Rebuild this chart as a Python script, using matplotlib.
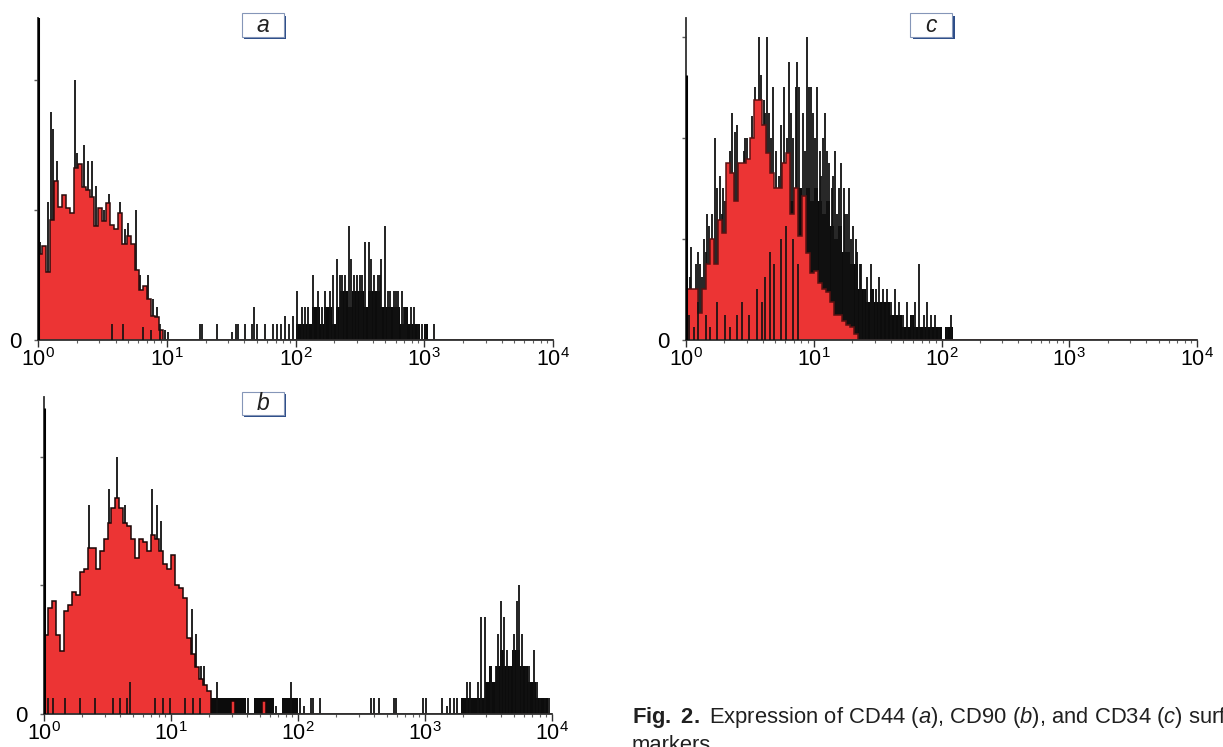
import numpy as np
import matplotlib
matplotlib.use('Agg')
from matplotlib import pyplot as plt
from matplotlib.patches import Rectangle

plt.rcParams['font.family'] = ['Liberation Sans', 'DejaVu Sans']
plt.rcParams['mathtext.fontset'] = 'custom'
plt.rcParams['mathtext.rm'] = 'Liberation Sans'
plt.rcParams['mathtext.it'] = 'Liberation Sans:italic'
plt.rcParams['mathtext.bf'] = 'Liberation Sans:bold'

#------------- data: events per channel, 32 channels per decade -------------#
ChannelsPerDecade = 32
DecadeTicks = [1, 10, 100, 1000, 10000]
DecadeLabels = [r'$\mathregular{10^{%d}}$' % i for i in range(5)]

# control (red, filled)
red_a = [5.3, 5.8, 4.2, 7.4, 9.8, 8.2, 8.9, 8.1, 7.8, 10.6, 10.8, 9.4, 9.2, 8.8, 7.0, 8.1,
         7.3, 8.4, 7.1, 6.8, 7.8, 5.9, 6.4, 5.9, 4.3, 3.1, 3.3, 2.5, 1.5, 1.4, 0.6, 0,
         0, 0, 0, 0, 0, 0, 0, 0, 0, 0, 0, 0, 0, 0, 0, 0,
         0, 0, 0, 0, 0, 0, 0, 0, 0, 0, 0, 0, 0, 0, 0, 0,
         0, 0, 0, 0, 0, 0, 0, 0, 0, 0, 0, 0, 0, 0, 0, 0,
         0, 0, 0, 0, 0, 0, 0, 0, 0, 0, 0, 0, 0, 0, 0, 0,
         0, 0, 0, 0, 0, 0, 0, 0, 0, 0, 0, 0, 0, 0, 0, 0,
         0, 0, 0, 0, 0, 0, 0, 0, 0, 0, 0, 0, 0, 0, 0, 0]
# sample (black): dense body per channel
black_a = [0, 0, 0, 0, 0, 0, 0, 0, 0, 0, 0, 0, 0, 0, 0, 0,
           0, 0, 0, 0, 0, 0, 0, 0, 0, 0, 0, 0, 0, 0, 0, 0,
           0, 0, 0, 0, 0, 0, 0, 0, 0, 0, 0, 0, 0, 0, 0, 0,
           0, 0, 0, 0, 0, 0, 0, 0, 0, 0, 0, 0, 0, 0, 0, 0,
           1, 1, 1, 1, 2, 2, 1, 2, 2, 1, 2, 3, 3, 2, 3, 3,
           3, 2, 3, 3, 3, 2, 2, 2, 2, 2, 1, 2, 1, 1, 1, 0,
           1, 0, 0, 0, 0, 0, 0, 0, 0, 0, 0, 0, 0, 0, 0, 0,
           0, 0, 0, 0, 0, 0, 0, 0, 0, 0, 0, 0, 0, 0, 0, 0]
# sample (black): single-channel spikes, position in channels and height in events
spike_a_pos = [0.5, 2.6, 3.3, 3.8, 4.6, 9.3, 9.7, 11.4, 12.4, 13.5, 14.5, 16.5, 17.6, 20.4, 21.5,
               22.4, 24.3, 25.4, 27.3, 28.5, 29.5, 31.5, 32.2, 40.2, 40.7, 44.5, 48.3, 49.2, 49.8,
               51.5, 53.2, 53.8, 54.4, 56.4, 58.5, 59.4, 60.5, 61.4, 62.5, 63.3, 64.3, 65.5, 67.2,
               68.3, 69.5, 70.6, 71.4, 73.4, 74.3, 75.6, 76.4, 77.2, 78.5, 79.3, 80.6, 81.2, 82.3,
               83.5, 84.4, 85.2, 86.3, 87.5, 88.6, 89.5, 90.4, 91.5, 92.6, 93.5, 94.5, 95.5, 96.3, 98.3,
               66.4, 72.5, 75.0, 77.8, 80.0, 82.8, 84.9, 86.9, 89.0, 90.9]
spike_a_h = [6, 8.5, 14, 13, 11, 16, 11.5, 12, 11, 11, 9.5, 8, 9, 8.5, 6.8,
             7.2, 8, 4, 4, 2.5, 2, 0.6, 0.5, 1, 1, 1, 0.5, 1, 1,
             1, 1, 2, 1, 1, 1, 1, 1, 1.5, 1, 1.5, 3, 2, 2,
             4, 3, 2, 3, 4, 5, 4, 4, 7, 4, 4, 4, 6, 6,
             4, 4, 5, 7, 3, 3, 3, 3, 2, 2, 2, 1, 1, 1, 1,
             2, 3, 4, 5, 4, 5, 4, 3, 3, 2]
# sample (black): low lines that show inside the red fill
low_a_pos = [18.5, 21.2, 26.2, 28.2, 30.2]
low_a_h = [1, 1, 0.8, 0.6, 1]
first_a = 20

red_b = [4.9, 6.6, 7.0, 4.9, 3.9, 6.4, 6.8, 7.6, 7.4, 8.8, 9.0, 10.3, 10.3, 9.0, 10.1, 10.9,
         11.9, 12.8, 13.4, 12.8, 11.9, 11.7, 10.9, 9.7, 10.9, 10.7, 10.1, 11.1, 10.9, 10.1, 9.3, 9.0,
         9.9, 8.0, 7.8, 7.2, 4.7, 3.7, 2.9, 2.2, 1.8, 1.4, 0, 0, 0, 0, 0, 0.8,
         0, 0, 0, 0, 0, 0, 0, 0.8, 0, 0, 0, 0, 0, 0, 0, 0,
         0, 0, 0, 0, 0, 0, 0, 0, 0, 0, 0, 0, 0, 0, 0, 0,
         0, 0, 0, 0, 0, 0, 0, 0, 0, 0, 0, 0, 0, 0, 0, 0,
         0, 0, 0, 0, 0, 0, 0, 0, 0, 0, 0, 0, 0, 0, 0, 0,
         0, 0, 0, 0, 0, 0, 0, 0, 0, 0, 0, 0, 0, 0, 0, 0]
black_b = [0, 0, 0, 0, 0, 0, 0, 0, 0, 0, 0, 0, 0, 0, 0, 0,
           0, 0, 0, 0, 0, 0, 0, 0, 0, 0, 0, 0, 0, 0, 0, 0,
           0, 0, 0, 0, 0, 0, 0, 0, 0, 0, 1, 1, 1, 1, 1, 1,
           1, 1, 1, 0, 0, 1, 1, 1, 1, 1, 0, 0, 1, 1, 1, 1,
           0, 0, 0, 0, 0, 0, 0, 0, 0, 0, 0, 0, 0, 0, 0, 0,
           0, 0, 0, 0, 0, 0, 0, 0, 0, 0, 0, 0, 0, 0, 0, 0,
           0, 0, 0, 0, 0, 0, 0, 0, 0, 1, 1, 1, 1, 1, 1, 2,
           3, 2, 3, 4, 3, 3, 4, 4, 3, 3, 2, 2, 1, 1, 1, 0]
spike_b_pos = [11.3, 16.4, 18.5, 20.4, 27.3, 28.4, 29.5, 37.3, 38.4, 39.5, 40.4, 43.5, 51.5, 58.5,
               62.3, 64.5, 65.5, 67.2, 67.8, 69.5, 82.3, 83.2, 84.3, 88.2, 88.7, 95.4, 96.2, 100.3,
               101.5, 102.3, 103.2, 104.1, 106.5, 107.3, 109.4, 110.2, 111.1, 112.6, 113.8, 114.5,
               115.2, 115.8, 116.6, 117.5, 118.3, 119.1, 119.7, 120.5, 121.4, 122.2, 123.4, 124.2,
               125.1, 126.3, 127.2]
spike_b_h = [13, 14, 16, 13, 14, 13, 12, 6.5, 5, 3, 3, 2, 1, 0.5,
             2, 1, 0.5, 1, 1, 1, 1, 1, 1, 1, 1, 1, 1, 1,
             0.5, 1, 1, 1, 2, 2, 2, 6, 6, 3, 3, 5,
             7, 6, 4, 3, 5, 7, 8, 5, 3, 3, 4, 2,
             1, 1, 1]
low_b_pos = [1.1, 2.3, 5.3, 9.1, 12.8, 17.5, 19.1, 20.8, 21.7, 28.0, 30.0, 31.7, 35.5, 37.6, 39.3]
low_b_h = [1, 1, 1, 1, 1, 1, 1, 1, 2, 1, 1, 1, 1, 1, 1]
first_b = 19

red_c = [4.0, 4.0, 4.0, 2.1, 4.0, 6.0, 8.0, 6.0, 9.5, 8.5, 14, 13.2, 11, 14, 14, 14.3,
         16, 19, 19, 17, 14.8, 13.2, 12, 12, 14, 14.8, 10, 12, 8.2, 11.4, 6.9, 5.3,
         5.5, 4.5, 4, 3.8, 3, 2, 2, 1.5, 1.2, 1, 0.5, 0, 0, 0, 0, 0,
         0, 0, 0, 0, 0, 0, 0, 0, 0, 0, 0, 0, 0, 0, 0, 0,
         0, 0, 0, 0, 0, 0, 0, 0, 0, 0, 0, 0, 0, 0, 0, 0,
         0, 0, 0, 0, 0, 0, 0, 0, 0, 0, 0, 0, 0, 0, 0, 0,
         0, 0, 0, 0, 0, 0, 0, 0, 0, 0, 0, 0, 0, 0, 0, 0,
         0, 0, 0, 0, 0, 0, 0, 0, 0, 0, 0, 0, 0, 0, 0, 0]
black_c = [2, 2, 2, 1, 2, 3, 3, 2, 4, 3, 4, 4, 3, 4, 4, 5,
           5, 5, 6, 6, 6, 8, 8, 9, 10, 11, 11, 12, 12, 11, 12, 11,
           12, 11, 10, 11, 9, 8, 9, 7, 7, 6, 6, 4, 4, 3, 4, 3,
           3, 3, 3, 2, 2, 2, 1, 1, 2, 1, 1, 1, 1, 1, 1, 1,
           0, 1, 1, 0, 0, 0, 0, 0, 0, 0, 0, 0, 0, 0, 0, 0,
           0, 0, 0, 0, 0, 0, 0, 0, 0, 0, 0, 0, 0, 0, 0, 0,
           0, 0, 0, 0, 0, 0, 0, 0, 0, 0, 0, 0, 0, 0, 0, 0,
           0, 0, 0, 0, 0, 0, 0, 0, 0, 0, 0, 0, 0, 0, 0, 0]
spike_c_pos = [0.4, 1.3, 2.4, 3.5, 4.4, 5.3, 6.6, 7.3, 8.4, 9.2, 10.5, 11.4, 12.3, 13.5, 14.6,
               15.4, 16.5, 17.3, 18.4, 19.5, 20.3, 21.4, 22.5, 23.3, 24.5, 25.4, 26.3, 27.5, 28.4,
               29.3, 30.4, 31.3, 32.4, 33.5, 34.3, 35.4, 36.5, 37.3, 38.4, 39.5, 40.3, 41.4, 42.5,
               43.5, 44.5, 46.4, 47.5, 49.3, 52.4, 56.5, 58.4, 61.3, 66.3,
               0.9, 1.8, 2.9, 3.9, 4.9, 5.8, 6.2, 7.8, 8.9, 9.8, 10.9, 11.8, 12.9, 13.9, 14.9,
               15.9, 16.9, 17.8, 18.9, 19.9, 20.8, 21.9, 23.9, 24.9, 25.9, 26.9, 27.9, 29.8, 30.8,
               31.8, 32.9, 33.9, 34.8, 35.9, 36.9, 37.9, 38.9, 39.9, 40.9, 41.9, 42.9, 43.9, 45.3,
               46.9, 48.3, 50.3, 51.3, 53.3, 54.3, 55.3, 57.4, 59.5, 60.4, 62.4, 63.4, 65.3]
spike_c_h = [4, 7.4, 6, 6, 8, 10, 10, 16, 13, 12, 14, 18, 16.5, 14, 15,
             16, 17.7, 20, 24, 19, 24, 16, 15, 13, 20, 16, 18, 20, 20,
             18, 24, 20, 16, 15, 16, 15, 12, 15, 12, 12, 10, 8, 8,
             6, 4, 6, 4, 4, 4, 2, 6, 2, 2,
             5, 4, 7, 5, 7, 9, 6, 12, 10, 11, 15, 12, 17, 12, 16,
             13, 16, 19, 21, 18, 18, 20, 17, 14, 22, 16, 22, 15, 20,
             18, 20, 13, 18, 14, 13, 10, 14, 10, 12, 9, 7, 6, 5,
             4, 5, 4, 3, 3, 2, 3, 3, 2, 3, 2, 1, 1]
low_c_pos = [0.8, 2.0, 3.0, 4.9, 6.0, 7.8, 9.8, 11.0, 12.8, 14.0, 15.9, 17.8, 19.0, 19.9,
             21.0, 22.0, 23.8, 25.0, 26.8, 28.0]
low_c_h = [2, 1, 3, 2, 1, 3, 2, 1, 2, 3, 2, 4, 3, 5, 7, 6, 8, 9, 8, 6]
first_c = 21

RedColor = '#ec3434'
W, H = 1223, 747


def ChannelToValue(Pos):
    return 10.0 ** (np.asarray(Pos) / ChannelsPerDecade)


def PlotPanel(fig, rect, Red, Black, SpikePos, SpikeH, LowPos, LowH, FirstChannel, YTop, YTicks, EdgeColor):
    ax = fig.add_axes(rect)
    edges = ChannelToValue(np.arange(len(Red) + 1))
    ax.stairs(Black, edges, fill=True, color='#0c0c0c', lw=0, zorder=1)
    ax.vlines(ChannelToValue(SpikePos), 0, SpikeH, color='#111111', lw=1.3, zorder=1.5)
    ax.stairs(Red, edges, fill=True, color=RedColor, lw=0, zorder=2)
    ax.stairs(Red, edges, color=EdgeColor, lw=1.1, zorder=2.5)
    ax.vlines(ChannelToValue(LowPos), 0, LowH, color='#111111', lw=1.2, zorder=3)
    ax.vlines(edges[0] * 1.004, 0, FirstChannel, color='black', lw=2.2, zorder=4)

    ax.set_xscale('log')
    ax.set_xlim(1, 1e4)
    ax.set_ylim(0, YTop)
    ax.set_xticks(DecadeTicks)
    ax.set_xticklabels(DecadeLabels)
    ax.set_yticks(YTicks)
    ax.set_yticklabels(['0'] + [''] * (len(YTicks) - 1))
    for s in ['top', 'right']:
        ax.spines[s].set_visible(False)
    for s in ['left', 'bottom']:
        ax.spines[s].set_color('#303030')
        ax.spines[s].set_linewidth(1.3)
    ax.tick_params(axis='x', which='major', length=5, width=1, pad=0.5, labelsize=15.5, color='#303030')
    ax.tick_params(axis='x', which='minor', length=2.5, width=0.8, color='#606060')
    ax.tick_params(axis='y', length=3, width=1, pad=9, labelsize=16, color='#606060')
    ax.set_facecolor('none')
    return ax


def PanelLabel(fig, cx, cy, Letter):
    # white box with a dark blue shadow on the right and bottom
    w, h = 42, 23
    x0, y0 = (cx - w / 2) / W, 1 - (cy + h / 2) / H
    fig.add_artist(Rectangle((x0 + 2.5 / W, y0 - 2.5 / H), w / W, h / H,
                             transform=fig.transFigure, fc='#2c4c88', ec='none'))
    fig.add_artist(Rectangle((x0, y0), w / W, h / H, transform=fig.transFigure,
                             fc='white', ec='#8596b8', lw=0.8))
    fig.text(cx / W, 1 - cy / H, Letter, style='italic', fontsize=16.5,
             ha='center', va='center', color='#202020')


fig = plt.figure(figsize=(W / 100, H / 100), dpi=100)

PlotPanel(fig, [38 / W, 1 - 340 / H, 515 / W, 322 / H], red_a, black_a,
          spike_a_pos, spike_a_h, low_a_pos, low_a_h, first_a, 19.8, [0, 8, 16], '#2a0c0c')
PlotPanel(fig, [44 / W, 1 - 714 / H, 508 / W, 317 / H], red_b, black_b,
          spike_b_pos, spike_b_h, low_b_pos, low_b_h, first_b, 19.7, [0, 8, 16], '#1a0606')
PlotPanel(fig, [686 / W, 1 - 340 / H, 511 / W, 322 / H], red_c, black_c,
          spike_c_pos, spike_c_h, low_c_pos, low_c_h, first_c, 25.5, [0, 8, 16, 24], '#5a1212')

PanelLabel(fig, 263, 25, 'a')
PanelLabel(fig, 263, 403, 'b')
PanelLabel(fig, 931, 25, 'c')

fig.text(632 / W, 1 - 723 / H,
         r'$\mathbf{Fig.\ 2.}$ Expression of CD44 ($\mathit{a}$), CD90 ($\mathit{b}$), '
         r'and CD34 ($\mathit{c}$) surface', fontsize=15.8, va='baseline', color='#202020')
fig.text(632 / W, 1 - 751 / H, 'markers', fontsize=15.8, va='baseline', color='#202020')

fig.savefig('out.png', dpi=100)
